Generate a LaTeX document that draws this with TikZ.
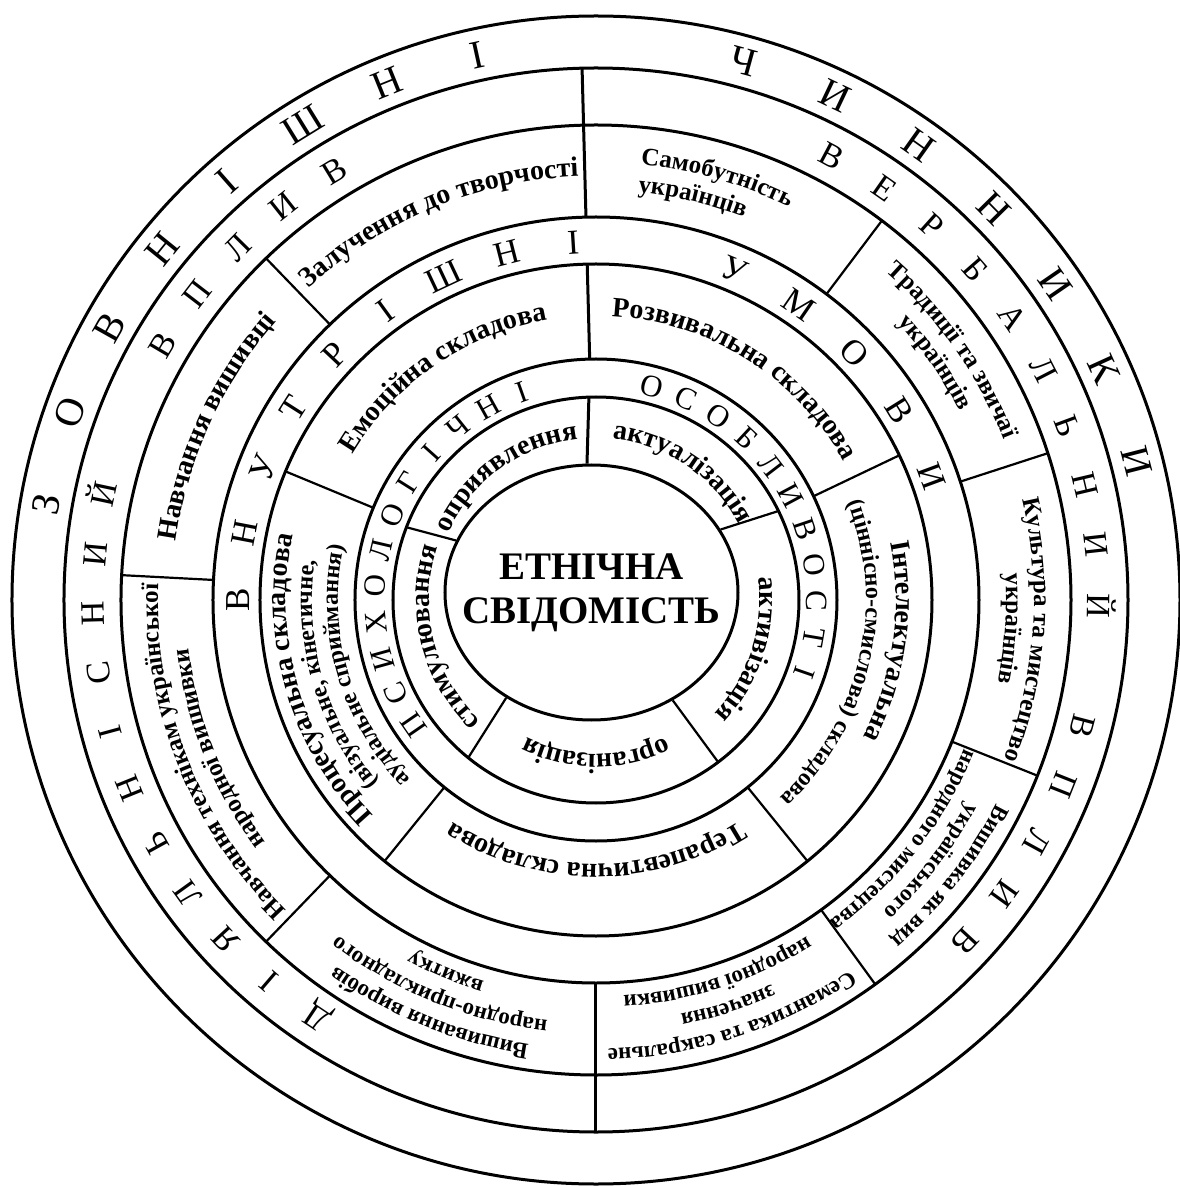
\documentclass[tikz,border=0pt]{standalone}
\usepackage{fontspec}
\setmainfont{Liberation Serif}
\usepackage{tikz}
\usetikzlibrary{decorations.text,shapes.geometric}

\newcommand{\singlefont}{\fontsize{28}{28}\selectfont\bfseries}
\newcommand{\itemfont}{\fontsize{25}{25}\selectfont\bfseries}
\newcommand{\smallfont}{\fontsize{23}{23}\selectfont\bfseries}
\newcommand{\subfont}{\fontsize{24}{24}\selectfont\bfseries}
\newcommand{\corefont}{\fontsize{39}{44}\selectfont\bfseries}

% text bent along a ring: centre angle, baseline radius, font, text
\newcommand{\arclabel}[4]{%
  \pgfmathsetmacro{\arcfrom}{#1+50}%
  \pgfmathsetmacro{\arcto}{#1-50}%
  \path[decorate,decoration={text along path,text align=center,text={|#3|#4}}]
    (\arcfrom:#2pt) arc[start angle=\arcfrom,end angle=\arcto,radius=#2pt];}

\tikzset{
  ringline/.style={line width=3pt},
  divline/.style={line width=2.2pt},
  axisline/.style={line width=3pt},
  letterbox/.style={inner sep=0pt,text depth=0pt},
  zovletter/.style={letterbox,font=\fontsize{40}{40}\selectfont,text height=26pt},
  vplletter/.style={letterbox,font=\fontsize{34}{34}\selectfont,text height=22.5pt},
  vnutletter/.style={letterbox,font=\fontsize{35}{35}\selectfont,text height=23pt},
  psyletter/.style={letterbox,font=\fontsize{31}{31}\selectfont,text height=20.5pt}
}

\begin{document}
\begin{tikzpicture}
  \fill[white] (-596pt,-586pt) rectangle (583pt,600pt);
  \useasboundingbox (-596pt,-586pt) rectangle (583pt,600pt);

  % rings
  \foreach \r in {584,532,475,383,336,241,203}
    \draw[ringline] (0,0) circle[radius=\r pt];
  \node[ellipse,draw,ringline,minimum width=293pt,minimum height=255pt,inner sep=0pt]
    (core) at (-4.5pt,7.5pt) {};
  \node[font=\corefont,align=center] (title) at (core.center) {ЕТНІЧНА\\СВІДОМІСТЬ};

  % dividers
  \draw[axisline] (91.5:383pt) -- (91.5:532pt);
  \draw[axisline] (270:383pt) -- (270:532pt);
  \foreach \a in {134,177,226,306,338.3,18,53} \draw[divline] (\a:383pt) -- (\a:475pt);
  \draw[axisline] (91.5:241pt) -- (91.5:336pt);
  \foreach \a in {157.5,231,309,25.5} \draw[divline] (\a:241pt) -- (\a:336pt);
  \draw[axisline] (core.92) -- (92:203pt);
  \foreach \a in {159,231,307,26} \draw[divline] (core.\a) -- (\a:203pt);

  % outer ring
  \foreach \ch [count=\i from 0] in {З,О,В,Н,І,Ш,Н,І}
    \node[zovletter,rotate=80.1-9.68*\i] (zov\i) at ({170.1-9.68*\i}:558pt) {\ch};
  \foreach \ch [count=\i from 0] in {Ч,И,Н,Н,И,К,И}
    \node[zovletter,rotate=-15.3-10.05*\i] (chyn\i) at ({74.7-10.05*\i}:558pt) {\ch};

  % influence ring
  \foreach \ch [count=\i from 0] in {Д,І,Я,Л,Ь,Н,І,С,Н,И,Й}
    \node[vplletter,rotate=146.2-6.83*\i] (diya\i) at ({236.2-6.83*\i}:503pt) {\ch};
  \foreach \ch [count=\i from 0] in {В,П,Л,И,В}
    \node[vplletter,rotate=59.5-7.03*\i] (vplA\i) at ({149.5-7.03*\i}:503pt) {\ch};
  \foreach \ch [count=\i from 0] in {В,Е,Р,Б,А,Л,Ь,Н,И,Й}
    \node[vplletter,rotate=-28-6.96*\i] (verb\i) at ({62-6.96*\i}:503pt) {\ch};
  \foreach \ch [count=\i from 0] in {В,П,Л,И,В}
    \node[vplletter,rotate=-104.6-7.05*\i] (vplB\i) at ({-14.6-7.05*\i}:503pt) {\ch};

  % inner conditions ring
  \foreach \ch [count=\i from 0] in {В,Н,У,Т,Р,І,Ш,Н,І}
    \node[vnutletter,rotate=90-10.8*\i] (vnut\i) at ({180-10.8*\i}:358pt) {\ch};
  \foreach \ch [count=\i from 0] in {У,М,О,В,И}
    \node[vnutletter,rotate=-22.8-11.75*\i] (umov\i) at ({67.2-11.75*\i}:358pt) {\ch};

  % psychological ring
  \foreach \ch [count=\i from 0] in {П,С,И,Х,О,Л,О,Г,І,Ч,Н,І}
    \node[psyletter,rotate=124.6-9.55*\i] (psy\i) at ({214.6-9.55*\i}:221pt) {\ch};
  \foreach \ch [count=\i from 0] in {О,С,О,Б,Л,И,В,О,С,Т,І}
    \node[psyletter,rotate=-14.7-9.44*\i] (osob\i) at ({75.3-9.44*\i}:221pt) {\ch};

  % influences
  \arclabel{112.5}{424}{\singlefont}{Залучення до творчості}
  \arclabel{155.5}{424}{\singlefont}{Навчання вишивці}
  \arclabel{201.5}{438}{\itemfont}{Навчання технікам української}
  \arclabel{201.5}{410}{\itemfont}{народної вишивки}
  \arclabel{248}{449}{\smallfont}{Вишивання виробів}
  \arclabel{248}{423}{\smallfont}{народно-прикладного}
  \arclabel{248}{397}{\smallfont}{вжитку}
  \arclabel{288}{449}{\smallfont}{Семантика та сакральне}
  \arclabel{288}{423}{\smallfont}{значення}
  \arclabel{288}{397}{\smallfont}{народної вишивки}
  \arclabel{322}{449}{\smallfont}{Вишивка як вид}
  \arclabel{322}{423}{\smallfont}{українського}
  \arclabel{322}{397}{\smallfont}{народного мистецтва}
  \arclabel{-4}{438}{\itemfont}{Культура та мистецтво}
  \arclabel{-4}{410}{\itemfont}{українців}
  \arclabel{35}{438}{\itemfont}{Традиції та звичаї}
  \arclabel{35}{410}{\itemfont}{українців}
  \arclabel{74}{438}{\itemfont}{Самобутність}
  \arclabel{76.5}{410}{\itemfont}{українців}

  % components
  \arclabel{124.5}{284}{\singlefont}{Емоційна складова}
  \arclabel{58}{284}{\singlefont}{Розвивальна складова}
  \arclabel{270}{264}{\singlefont}{Терапевтична складова}
  \arclabel{196}{310}{\singlefont}{Процесуальна складова}
  \arclabel{196}{284}{\subfont}{(візуальне, кінетичне,}
  \arclabel{196}{258}{\subfont}{аудіальне сприймання)}
  \arclabel{352}{300}{\singlefont}{Інтелектуальна}
  \arclabel{347}{270}{\subfont}{(ціннісно-смислова) складова}

  % processes
  \arclabel{126}{162}{\singlefont}{оприявлення}
  \arclabel{56}{162}{\singlefont}{актуалізація}
  \arclabel{342}{164}{\singlefont}{активізація}
  \arclabel{270}{154}{\singlefont}{організація}
  \arclabel{194}{167}{\singlefont}{стимулювання}
\end{tikzpicture}
\end{document}
